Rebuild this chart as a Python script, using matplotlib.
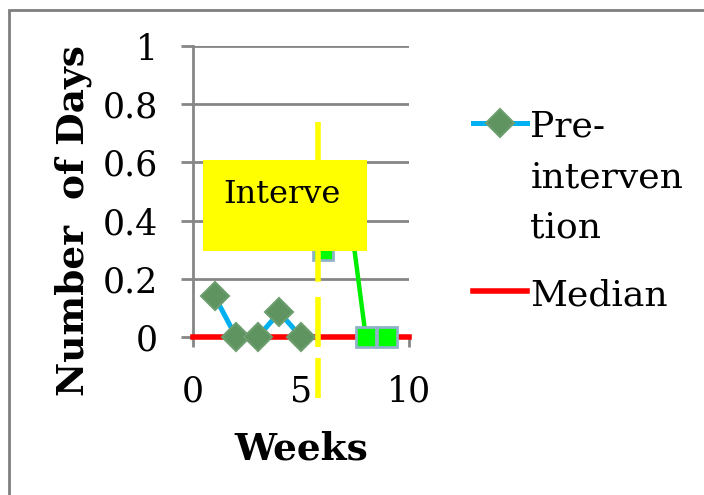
import numpy as np
import matplotlib.pyplot as plt
from matplotlib.patches import Rectangle

plt.rcParams['font.family'] = ['DejaVu Serif']
plt.rcParams['lines.scale_dashes'] = False

# data
pre_weeks = [1, 2, 3, 4, 5]
pre_days = [0.14, 0.0, 0.0, 0.085, 0.0]
post_weeks = [6, 7, 8, 9]
post_days = [0.30, 0.57, 0.0, 0.0]
median_x = [0, 10]
median_y = [0, 0]
phase_change = 5.8
x_ticks = [0, 5, 10]
y_ticks = [0, 0.2, 0.4, 0.6, 0.8, 1]
y_tick_labels = ['0', '0.2', '0.4', '0.6', '0.8', '1']

fig = plt.figure(figsize=(7.04, 4.95), dpi=100)
ax = fig.add_axes([193/704, 1-337/495, 216/704, 291/495])

grid_c = '#868686'
for y in y_ticks[1:]:
    ax.axhline(y, color=grid_c, lw=2, zorder=1)

ax.plot(pre_weeks, pre_days, color='#00b0f0', lw=3.6, marker='D', ms=14,
        mfc='#5f9360', mec='#6d9e70', mew=1.5, zorder=4, clip_on=False,
        label='Pre-\ninterven\ntion')
ax.plot(post_weeks, post_days, color='#00ee00', lw=3.2, marker='s', ms=14,
        mfc='#00ff00', mec='#8fb2c6', mew=2, zorder=4, clip_on=False)
ax.plot(median_x, median_y, color='#ff0000', lw=4, zorder=3.5, clip_on=False,
        label='Median')

# phase-change line, runs past the axis
ax.plot([phase_change, phase_change], [0.74, -0.21], color='#ffff00', lw=4,
        dashes=(115, 11, 36, 8, 30, 8), zorder=6, clip_on=False)

# label box (text cut off as in the original)
ax.add_patch(Rectangle((0.46, 0.296), 7.6, 0.312, facecolor='#ffff00',
                       edgecolor='none', zorder=5))
ax.text(1.39, 0.49, 'Interve', fontsize=23, va='center', ha='left', zorder=7)

ax.set_xlim(0, 10)
ax.set_ylim(0, 1)
ax.set_xticks(x_ticks)
ax.set_yticks(y_ticks)
ax.set_yticklabels(y_tick_labels)
for s in ['top', 'right']:
    ax.spines[s].set_visible(False)
ax.spines['left'].set_color(grid_c)
ax.spines['left'].set_linewidth(2)
ax.spines['bottom'].set_color(grid_c)
ax.spines['bottom'].set_linewidth(2)
ax.tick_params(axis='y', length=9, width=2, color=grid_c, labelsize=25, pad=16)
ax.tick_params(axis='x', length=7, width=2, color=grid_c, labelsize=25, pad=20)

ax.set_xlabel('Weeks', fontsize=27, fontweight='bold')
ax.xaxis.set_label_coords(0.5, -0.32)
ax.set_ylabel('Number  of Days', fontsize=27, fontweight='bold')
ax.yaxis.set_label_coords(-0.467, 0.40)

leg = ax.legend(loc='upper left', bbox_to_anchor=(1.228, 0.83), frameon=False,
                fontsize=26, handlelength=1.5, handletextpad=0.1,
                labelspacing=0.95, borderaxespad=0)
for t in leg.get_texts():
    t.set_linespacing(1.6)
# put the handle beside the first line of a wrapped label
for col in leg._legend_handle_box.get_children():
    for item in col.get_children():
        item.align = 'top'

# outer chart frame
fig.patches.append(Rectangle((9/704, -0.1), 1.2, 1.1 - 10/495, transform=fig.transFigure,
                             fill=False, edgecolor='#7f7f7f', lw=2))

fig.savefig('out.png', dpi=100)
